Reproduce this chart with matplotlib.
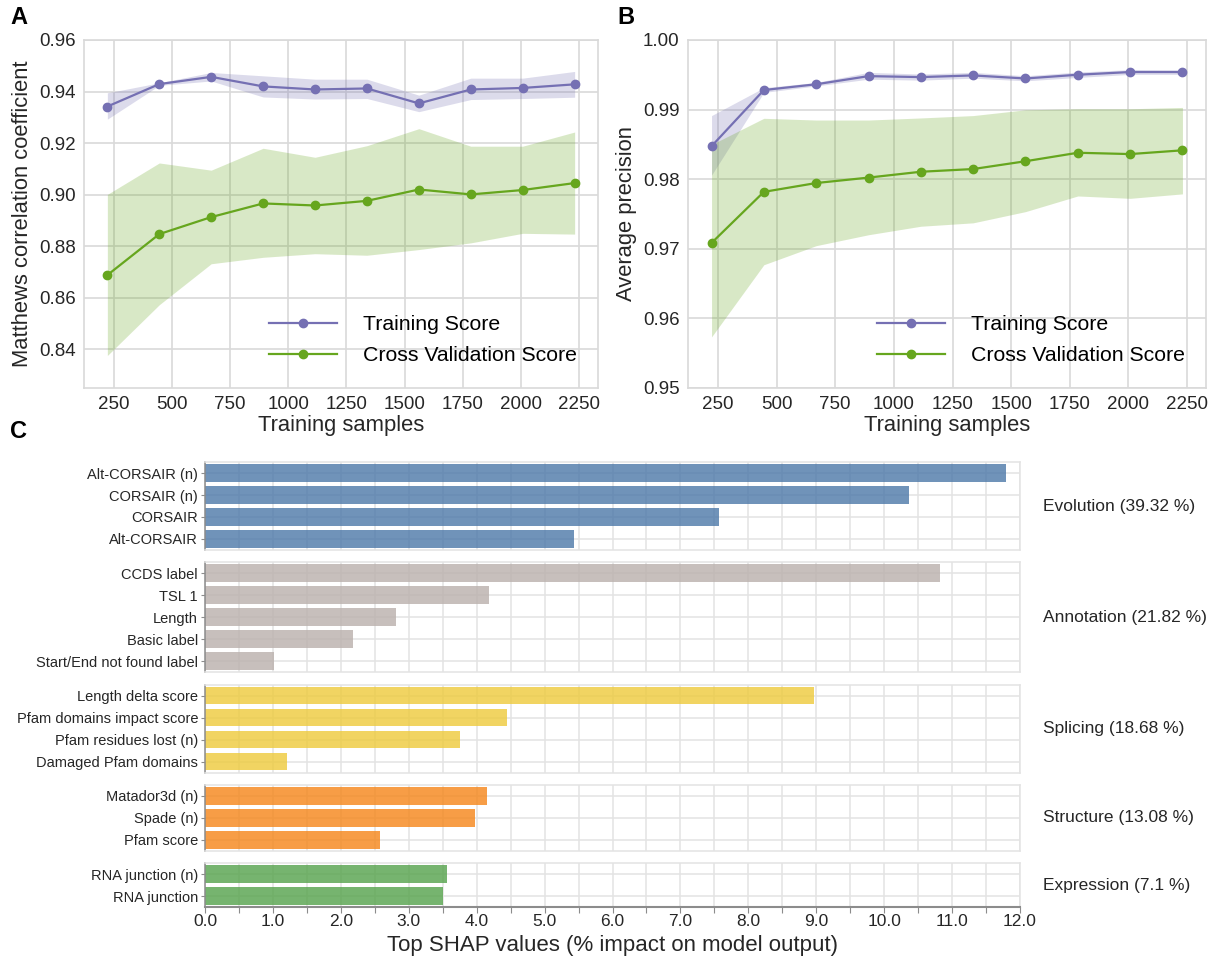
import numpy as np
import matplotlib
matplotlib.use("Agg")
import matplotlib.pyplot as plt
from matplotlib.ticker import MultipleLocator

plt.rcParams['font.family'] = ['Liberation Sans', 'DejaVu Sans']

#*---------- learning curves (A, B) ----------
train_sizes = [223, 446, 669, 892, 1115, 1338, 1561, 1784, 2007, 2230]

mcc_train    = [0.9342, 0.9429, 0.9457, 0.9420, 0.9408, 0.9412, 0.9354, 0.9408, 0.9414, 0.9428]
mcc_train_hi = [0.9395, 0.9434, 0.9474, 0.9461, 0.9448, 0.9448, 0.9386, 0.9452, 0.9452, 0.9478]
mcc_train_lo = [0.9293, 0.9424, 0.9441, 0.9379, 0.9371, 0.9373, 0.9322, 0.9369, 0.9373, 0.9378]
mcc_cv       = [0.8688, 0.8847, 0.8913, 0.8966, 0.8958, 0.8976, 0.9020, 0.9001, 0.9018, 0.9045]
mcc_cv_hi    = [0.9001, 0.9123, 0.9095, 0.9180, 0.9145, 0.9190, 0.9256, 0.9188, 0.9188, 0.9243]
mcc_cv_lo    = [0.8376, 0.8573, 0.8732, 0.8757, 0.8771, 0.8765, 0.8787, 0.8813, 0.8850, 0.8847]

ap_train    = [0.98474, 0.99281, 0.99364, 0.99481, 0.99467, 0.99491, 0.99447, 0.99501, 0.99540, 0.99540]
ap_train_hi = [0.98914, 0.99315, 0.99390, 0.99535, 0.99511, 0.99535, 0.99486, 0.99540, 0.99574, 0.99569]
ap_train_lo = [0.98058, 0.99247, 0.99340, 0.99437, 0.99423, 0.99452, 0.99413, 0.99462, 0.99506, 0.99506]
ap_cv       = [0.97084, 0.97818, 0.97945, 0.98023, 0.98107, 0.98146, 0.98258, 0.98380, 0.98361, 0.98415]
ap_cv_hi    = [0.98498, 0.98875, 0.98850, 0.98850, 0.98880, 0.98914, 0.98997, 0.99012, 0.99012, 0.99031]
ap_cv_lo    = [0.95734, 0.96771, 0.97045, 0.97202, 0.97324, 0.97373, 0.97534, 0.97759, 0.97725, 0.97789]

#*---------- SHAP groups (C) ----------
groups = ["Evolution (39.32 %)", "Annotation (21.82 %)", "Splicing (18.68 %)",
          "Structure (13.08 %)", "Expression (7.1 %)"]
features = [
    ["Alt-CORSAIR (n)", "CORSAIR (n)", "CORSAIR", "Alt-CORSAIR"],
    ["CCDS label", "TSL 1", "Length", "Basic label", "Start/End not found label"],
    ["Length delta score", "Pfam domains impact score", "Pfam residues lost (n)", "Damaged Pfam domains"],
    ["Matador3d (n)", "Spade (n)", "Pfam score"],
    ["RNA junction (n)", "RNA junction"],
]
shap_vals = [
    [11.79, 10.37, 7.57, 5.43],
    [10.82, 4.18, 2.81, 2.18, 1.02],
    [8.97, 4.44, 3.75, 1.21],
    [4.15, 3.98, 2.57],
    [3.57, 3.51],
]
group_colors = ["#4c78a8", "#bab0ac", "#eeca3b", "#f58518", "#54a24b"]

c_train = "#7570b3"
c_cv = "#66a61e"
grid_c = "#d9d9d9"

fig = plt.figure(figsize=(12.08, 9.61), dpi=100)
W, H = 1208.0, 961.0

def px_axes(x0, y0, x1, y1):
    return fig.add_axes([x0 / W, 1 - y1 / H, (x1 - x0) / W, (y1 - y0) / H])

def curve_panel(ax, tr, tr_hi, tr_lo, cv, cv_hi, cv_lo, ylabel, ylim, yfmt):
    ax.fill_between(train_sizes, tr_lo, tr_hi, color=c_train, alpha=0.25, lw=0)
    ax.fill_between(train_sizes, cv_lo, cv_hi, color=c_cv, alpha=0.25, lw=0)
    ax.plot(train_sizes, tr, "o-", color=c_train, lw=1.6, ms=6, label="Training Score")
    ax.plot(train_sizes, cv, "o-", color=c_cv, lw=1.6, ms=6, label="Cross Validation Score")
    ax.set_ylim(*ylim)
    ax.set_xticks(np.arange(250, 2251, 250))
    ax.yaxis.set_major_formatter(plt.FormatStrFormatter(yfmt))
    ax.grid(True, color=grid_c, lw=1.2)
    ax.set_axisbelow(True)
    for s in ax.spines.values():
        s.set_color(grid_c)
        s.set_linewidth(1.2)
    ax.tick_params(length=0, labelsize=13.5, colors="#262626", pad=6)
    ax.set_xlabel("Training samples", fontsize=15.8, color="#262626", labelpad=1)
    ax.set_ylabel(ylabel, fontsize=15.8, color="#262626", labelpad=4)
    ax.legend(loc="lower right", fontsize=15.3, frameon=False, handlelength=3.2,
              handletextpad=1.2, borderaxespad=0.6, labelspacing=0.55,
              bbox_to_anchor=(1.0, 0.005))

axA = px_axes(84, 40, 598, 388)
curve_panel(axA, mcc_train, mcc_train_hi, mcc_train_lo, mcc_cv, mcc_cv_hi, mcc_cv_lo,
            "Matthews correlation coefficient", (0.825, 0.96), "%.2f")
axB = px_axes(688, 40, 1206, 388)
curve_panel(axB, ap_train, ap_train_hi, ap_train_lo, ap_cv, ap_cv_hi, ap_cv_lo,
            "Average precision", (0.95, 1.0), "%.2f")

fig.text(10 / W, 1 - 18 / H, "A", fontsize=17, fontweight="bold", va="center")
fig.text(617 / W, 1 - 18 / H, "B", fontsize=17, fontweight="bold", va="center")
fig.text(10 / W, 1 - 432 / H, "C", fontsize=17, fontweight="bold", va="center")

#*---------- panel C ----------
slot = 22.0
gap = 12.3
y = 462.0
for gi, (gname, feats, vals, col) in enumerate(zip(groups, features, shap_vals, group_colors)):
    n = len(feats)
    h = n * slot
    ax = px_axes(205, y, 1020, y + h)
    pos = np.arange(n)[::-1]
    ax.barh(pos, vals, height=0.8, color=col, alpha=0.8, zorder=2)
    ax.set_ylim(-0.5, n - 0.5)
    ax.set_xlim(0, 12)
    ax.set_yticks(pos)
    ax.set_yticklabels(feats, fontsize=10.5, color="#262626")
    ax.xaxis.set_major_locator(MultipleLocator(0.5))
    ax.grid(True, color="#e3e3e3", lw=1.1, zorder=0)
    ax.set_axisbelow(True)
    for s in ax.spines.values():
        s.set_color("#e3e3e3")
        s.set_linewidth(1.1)
    ax.spines["left"].set_color("#8c8c8c")
    ax.tick_params(axis="y", length=3, width=0.8, color="#8c8c8c", pad=2)
    if gi == len(groups) - 1:
        ax.spines["bottom"].set_color("#8c8c8c")
        ax.spines["bottom"].set_linewidth(1.5)
        ticks = np.arange(0, 12.01, 0.5)
        ax.set_xticks(ticks)
        ax.set_xticklabels([f"{t:.1f}" if t % 1 == 0 else "" for t in ticks],
                           fontsize=12.5, color="#262626")
        ax.tick_params(axis="x", length=4, width=0.8, color="#8c8c8c", pad=1)
        ax.set_xlabel("Top SHAP values (% impact on model output)", fontsize=16,
                      color="#262626", labelpad=4)
    else:
        ax.tick_params(axis="x", length=0, labelbottom=False)
    fig.text(1043 / W, 1 - (y + h / 2) / H, gname, fontsize=12.5, color="#262626",
             va="center", ha="left")
    y += h + gap

fig.savefig("out.png", dpi=100)
